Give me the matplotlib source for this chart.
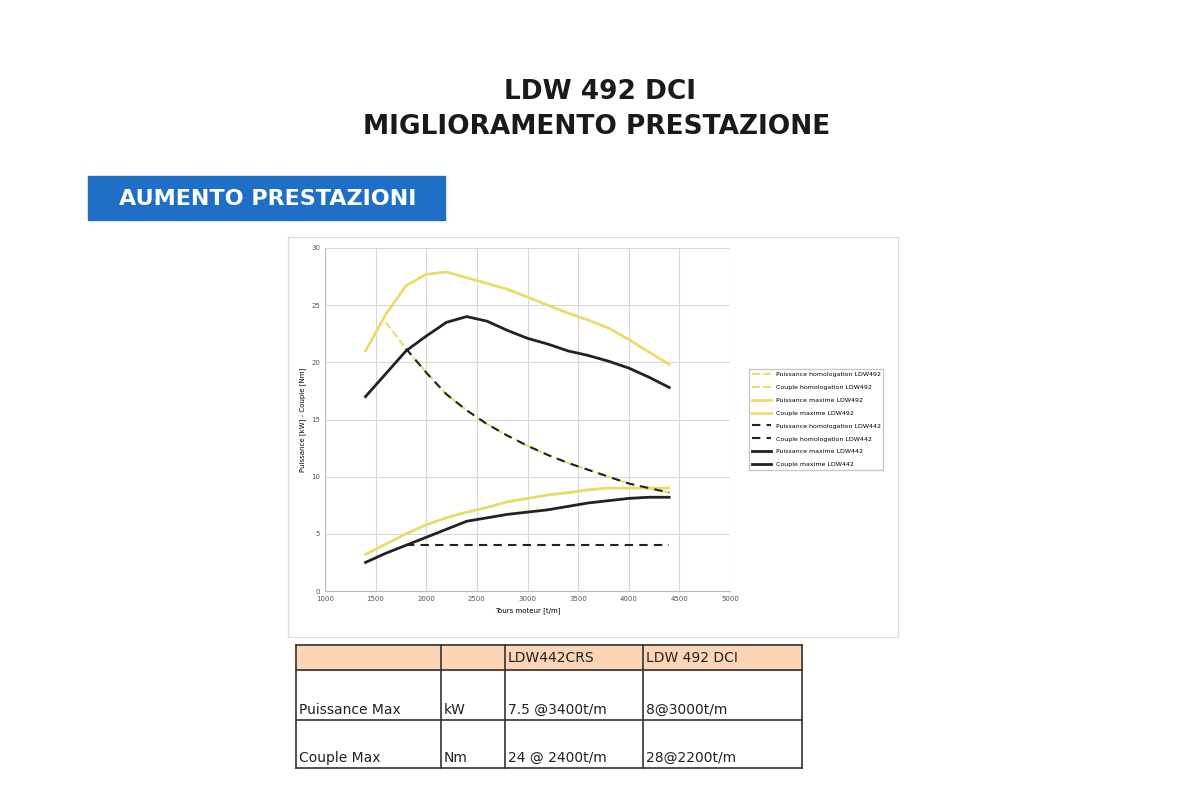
import numpy as np
import matplotlib.pyplot as plt
from matplotlib.patches import Rectangle

# data
rpm_full = [1400, 1600, 1800, 2000, 2200, 2400, 2600, 2800, 3000, 3200, 3400, 3600, 3800, 4000, 4200, 4400]
torque_max_492 = [21, 24.2, 26.7, 27.7, 27.9, 27.4, 26.9, 26.4, 25.7, 25.0, 24.3, 23.7, 23.0, 22.0, 20.9, 19.8]
torque_max_442 = [17, 19.0, 21, 22.3, 23.5, 24, 23.6, 22.8, 22.1, 21.6, 21.0, 20.6, 20.1, 19.5, 18.7, 17.8]
power_max_492 = [3.2, 4.1, 5.0, 5.8, 6.4, 6.9, 7.3, 7.8, 8.1, 8.4, 8.6, 8.85, 9.0, 9.0, 9.0, 9.0]
power_max_442 = [2.5, 3.3, 4.0, 4.7, 5.4, 6.1, 6.4, 6.7, 6.9, 7.1, 7.4, 7.7, 7.9, 8.1, 8.2, 8.2]

rpm_hom_492 = [1600, 1800, 2000, 2200, 2400, 2600, 2800, 3000, 3200, 3400, 3600, 3800, 4000, 4200, 4400]
torque_hom_492 = [23.5, 21.2, 19.1, 17.2, 15.8, 14.6, 13.6, 12.7, 11.9, 11.2, 10.6, 10.0, 9.4, 9.0, 8.6]
power_hom_492 = [4.1, 5.0, 5.8, 6.4, 6.9, 7.3, 7.8, 8.1, 8.4, 8.6, 8.85, 9.0, 9.0, 9.0, 9.0]
rpm_hom_442 = [1800, 2000, 2200, 2400, 2600, 2800, 3000, 3200, 3400, 3600, 3800, 4000, 4200, 4400]
torque_hom_442 = [21.2, 19.1, 17.2, 15.8, 14.6, 13.6, 12.7, 11.9, 11.2, 10.6, 10.0, 9.4, 9.0, 8.6]
power_hom_442 = [4.0] * len(rpm_hom_442)

table_header = ["", "", "LDW442CRS", "LDW 492 DCI"]
table_rows = [["Puissance Max", "kW", "7.5 @3400t/m", "8@3000t/m"],
              ["Couple Max", "Nm", "24 @ 2400t/m", "28@2200t/m"]]

W, H = 1200, 799
fig = plt.figure(figsize=(12, 7.99), dpi=100)
bg = fig.add_axes([0, 0, 1, 1])
bg.set_xlim(0, W)
bg.set_ylim(H, 0)
bg.axis("off")

bg.text(600, 92, "LDW 492 DCI", ha="center", va="center", fontsize=19, fontweight="bold", color="#1a1a1a")
bg.text(597, 127, "MIGLIORAMENTO PRESTAZIONE", ha="center", va="center", fontsize=19, fontweight="bold", color="#1a1a1a")
bg.add_patch(Rectangle((88, 176), 357, 44, color="#1f6fc6"))
bg.text(268, 199, "AUMENTO PRESTAZIONI", ha="center", va="center", fontsize=16, fontweight="bold", color="white")
# chart frame
bg.add_patch(Rectangle((288, 237), 610, 400, fill=False, ec="#dddddd", lw=1))

# table
col_x = [296, 441, 505, 643, 802]
row_y = [645, 670, 720, 768]
bg.add_patch(Rectangle((296, 645), 506, 25, color="#fbd5b5"))
for x in col_x:
    bg.plot([x, x], [row_y[0], row_y[-1]], color="#333333", lw=1.2)
for y in row_y:
    bg.plot([col_x[0], col_x[-1]], [y, y], color="#333333", lw=1.2)
for j, t in enumerate(table_header):
    bg.text(col_x[j] + 3, 658, t, va="center", fontsize=10, color="#222222")
for i, row in enumerate(table_rows):
    for j, t in enumerate(row):
        bg.text(col_x[j] + 3, row_y[i + 2] - 10, t, va="center", fontsize=10, color="#222222")

ax = fig.add_axes([325 / W, (H - 591) / H, 405 / W, 343 / H])
yel = "#e8dc6a"
ax.plot(rpm_hom_492, power_hom_492, color=yel, ls="--", lw=1.5, label="Puissance homologation LDW492")
ax.plot(rpm_hom_492, torque_hom_492, color=yel, ls="--", lw=1.5, label="Couple homologation LDW492")
ax.plot(rpm_full, power_max_492, color=yel, lw=2, label="Puissance maxime LDW492")
ax.plot(rpm_full, torque_max_492, color=yel, lw=2, label="Couple maxime LDW492")
ax.plot(rpm_hom_442, power_hom_442, color="#222222", ls=(0, (4, 3)), lw=1.5, label="Puissance homologation LDW442")
ax.plot(rpm_hom_442, torque_hom_442, color="#222222", ls=(0, (4, 3)), lw=1.5, label="Couple homologation LDW442")
ax.plot(rpm_full, power_max_442, color="#222222", lw=2, label="Puissance maxime LDW442")
ax.plot(rpm_full, torque_max_442, color="#222222", lw=2, label="Couple maxime LDW442")

ax.set_xlim(1000, 5000)
ax.set_ylim(0, 30)
ax.set_xticks(np.arange(1000, 5001, 500))
ax.set_yticks(np.arange(0, 31, 5))
ax.tick_params(labelsize=5, length=0, colors="#555555")
ax.grid(color="#d8d8d8", lw=0.8)
for s in ["top", "right"]:
    ax.spines[s].set_visible(False)
for s in ["left", "bottom"]:
    ax.spines[s].set_color("#bbbbbb")
ax.set_xlabel("Tours moteur [t/m]", fontsize=5)
ax.set_ylabel("Puissance [kW] - Couple [Nm]", fontsize=5)
ax.legend(loc="center left", bbox_to_anchor=(1.04, 0.5), fontsize=4.5, frameon=True,
          edgecolor="#bbbbbb", fancybox=False, labelspacing=1.2, handlelength=3)

fig.savefig("out.png", dpi=100)
